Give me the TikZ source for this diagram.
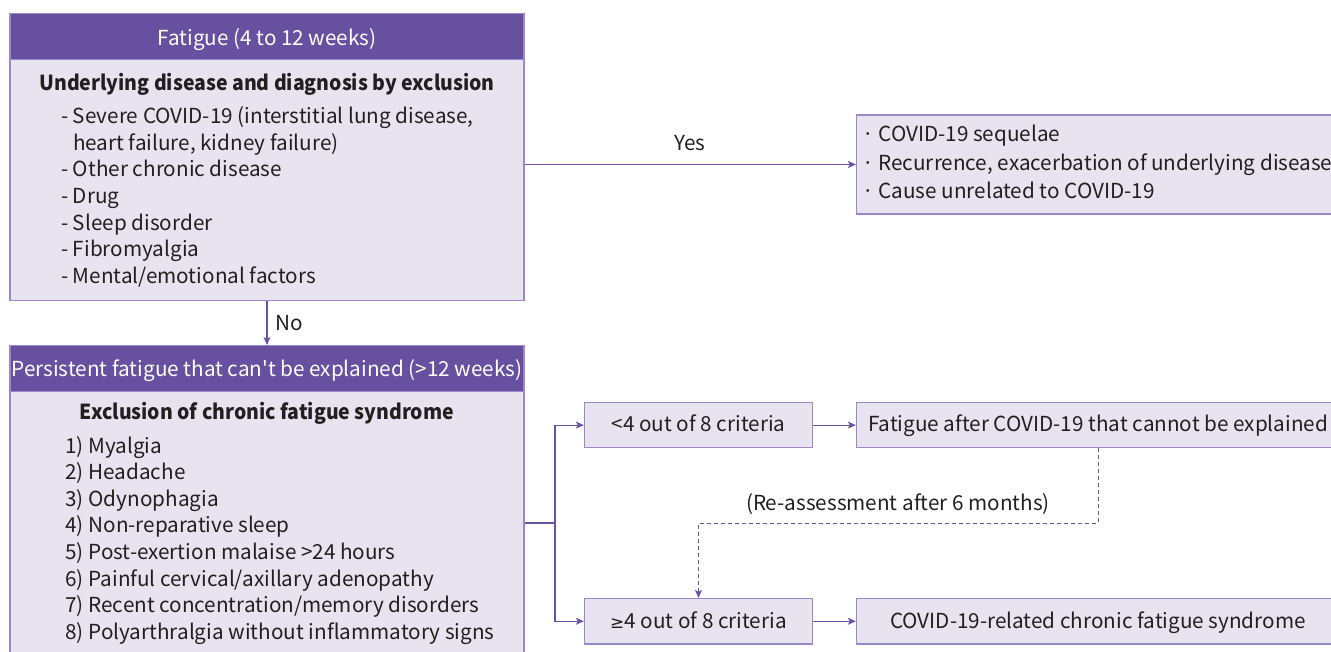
\documentclass[tikz,border=0pt]{standalone}
\usepackage{fontspec}
\setmainfont{Noto Sans CJK KR}[Ligatures=TeXOff]
\newfontfamily\symf{DejaVu Sans}
\usetikzlibrary{arrows.meta}
\definecolor{hdr}{HTML}{6750A0}
\definecolor{bodyfill}{HTML}{E7E4F0}
\definecolor{edge}{HTML}{9C88C8}
\definecolor{lin}{HTML}{6A52A8}
\definecolor{txt}{HTML}{231F20}
\newcommand{\fsz}{20.7}
\newcommand{\ttl}[1]{\scalebox{0.94}[1]{#1}}
\begin{document}
\begin{tikzpicture}[x=1pt,y=-1pt,
  hdrbox/.style={fill=hdr, draw=edge, line width=1.3pt, inner sep=0pt},
  bodybox/.style={fill=bodyfill, draw=edge, line width=1.3pt, inner sep=0pt},
  hdrtext/.style={text=white, inner sep=0pt, font=\fontsize{\fsz}{26.6}\selectfont},
  txtnode/.style={text=txt, inner sep=0pt, align=left, font=\fontsize{\fsz}{26.6}\selectfont},
  boldtext/.style={text=txt, inner sep=0pt, font=\fontsize{\fsz}{26.6}\selectfont\bfseries},
  plain/.style={draw=lin, line width=1.1pt},
  conn/.style={draw=lin, line width=1.1pt, -{Stealth[length=8pt,width=7pt,inset=2pt]}},
  dconn/.style={conn, dash pattern=on 4pt off 3pt}
]
\useasboundingbox (0,0) rectangle (1331,651);
\clip (0,0) rectangle (1331,651);

% Box 1
\node[bodybox, minimum width=514pt, minimum height=241.2pt] (b1) at (267,179.9) {};
\node[hdrbox, minimum width=514pt, minimum height=46pt] (h1) at (267,36.3) {};
\node[hdrtext, anchor=base] (h1t) at (267,45) {Fatigue (4 to 12 weeks)};
\node[boldtext, anchor=base] (b1t) at (267,90) {\ttl{Underlying disease and diagnosis by exclusion}};
\node[txtnode, anchor=base west] (b1l) at (61,283.3) {- Severe COVID-19 (interstitial lung disease,\\
\phantom{- }heart failure, kidney failure)\\
- Other chronic disease\\
- Drug\\
- Sleep disorder\\
- Fibromyalgia\\
- Mental/emotional factors};

% Box 2
\node[bodybox, minimum width=514pt, minimum height=290pt] (b2) at (267,536.7) {};
\node[hdrbox, minimum width=514pt, minimum height=46pt] (h2) at (267,368.7) {};
\node[hdrtext, anchor=base] (h2t) at (267,376.7) {Persistent fatigue that can't be explained (>12 weeks)};
\node[boldtext, anchor=base] (b2t) at (267,419) {\ttl{Exclusion of chronic fatigue syndrome}};
\node[txtnode, anchor=base west] (b2l) at (62,639.3) {%
\makebox[1.05em][r]{1)}\ Myalgia\\
\makebox[1.05em][r]{2)}\ Headache\\
\makebox[1.05em][r]{3)}\ Odynophagia\\
\makebox[1.05em][r]{4)}\ Non-reparative sleep\\
\makebox[1.05em][r]{5)}\ Post-exertion malaise >24 hours\\
\makebox[1.05em][r]{6)}\ Painful cervical/axillary adenopathy\\
\makebox[1.05em][r]{7)}\ Recent concentration/memory disorders\\
\makebox[1.05em][r]{8)}\ Polyarthralgia without inflammatory signs};

% Right boxes
\node[bodybox, minimum width=483.5pt, minimum height=99pt] (r1) at (1098.25,164.5) {};
\node[txtnode, anchor=base west, font=\fontsize{\fsz}{28.5}\selectfont] (r1t) at (862,198.5) {· COVID-19 sequelae\\
· Recurrence, exacerbation of underlying disease\\
· Cause unrelated to COVID-19};

\node[bodybox, minimum width=228pt, minimum height=45.2pt] (lt4) at (698.5,425.1) {};
\node[txtnode, anchor=base] (lt4t) at (698.5,431.7) {<4 out of 8 criteria};
\node[bodybox, minimum width=483.5pt, minimum height=45.2pt] (fae) at (1098.25,425.1) {};
\node[txtnode, anchor=base] (faet) at (1098,431.7) {Fatigue after COVID-19 that cannot be explained};

\node[bodybox, minimum width=228pt, minimum height=45.5pt] (ge4) at (698.5,621.25) {};
\node[txtnode, anchor=base] (ge4t) at (698.5,628) {{\symf\fontsize{17}{20}\selectfont ≥}4 out of 8 criteria};
\node[bodybox, minimum width=483.5pt, minimum height=45.5pt] (crel) at (1098.25,621.25) {};
\node[txtnode, anchor=base] (crelt) at (1098,628) {COVID-19-related chronic fatigue syndrome};

% Connectors
\draw[conn] (b1.south) -- (h2.north);
\node[txtnode, anchor=base west] (no) at (275,330) {No};
\draw[conn] (r1.west -| b1.east) -- (r1.west);
\node[txtnode, anchor=base] (yes) at (690,150) {Yes};
\coordinate (br) at (555,523);
\draw[plain] (b2.east |- br) -- (br);
\draw[conn] (br) |- (lt4.west);
\draw[conn] (br) |- (ge4.west);
\draw[conn] (lt4.east) -- (fae.west);
\draw[conn] (ge4.east) -- (crel.west);
\draw[dconn] (fae.south) -- ++(0,75) -| (ge4.north);
\node[txtnode, anchor=base] (rea) at (898,510) {(Re-assessment after 6 months)};
\end{tikzpicture}
\end{document}
